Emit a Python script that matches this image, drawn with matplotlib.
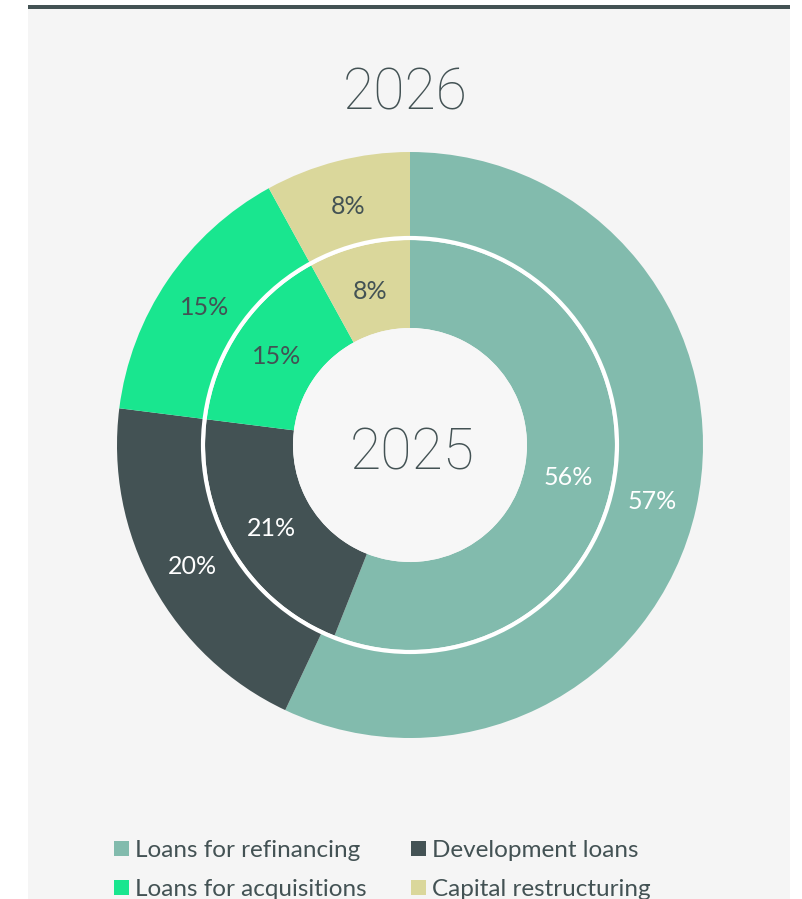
import matplotlib
matplotlib.use("Agg")
import matplotlib.pyplot as plt
from matplotlib.patches import Rectangle, Circle

categories = ["Loans for refinancing", "Development loans", "Loans for acquisitions", "Capital restructuring"]
values_2026 = [57, 20, 15, 8]
values_2025 = [56, 21, 15, 8]
colors = ["#82bbad", "#435254", "#19e68f", "#dad79b"]
label_colors = ["white", "white", "#435254", "#435254"]
outer_title = "2026"
inner_title = "2025"

TEXT = "#435254"
BG = "#f5f5f5"
FONT = ["Lato", "DejaVu Sans"]
TITLE_FONT = ["Roboto", "Lato", "DejaVu Sans"]

W, H = 802, 899
fig = plt.figure(figsize=(W / 100, H / 100), dpi=100)
fig.patch.set_facecolor("white")
ax = fig.add_axes([0, 0, 1, 1])

def Y(y):
    return H - y

cx, cy = 410, Y(445)

# outer ring (2026)
w1, t1, a1 = ax.pie(values_2026, radius=293, center=(cx, cy), startangle=90, counterclock=False,
                    colors=colors, wedgeprops=dict(width=87, edgecolor="none", linewidth=0),
                    autopct=lambda p: f"{p:.0f}%", pctdistance=248 / 293, frame=True,
                    textprops=dict(fontsize=18, family=FONT))
# inner ring (2025)
w2, t2, a2 = ax.pie(values_2025, radius=205, center=(cx, cy), startangle=90, counterclock=False,
                    colors=colors, wedgeprops=dict(width=88, edgecolor="none", linewidth=0),
                    autopct=lambda p: f"{p:.0f}%", pctdistance=161 / 205, frame=True,
                    textprops=dict(fontsize=18, family=FONT))
for txts in (a1, a2):
    for t, c in zip(txts, label_colors):
        t.set_color(c)
        t.set_va("center_baseline")

ax.set_xlim(0, W)
ax.set_ylim(0, H)
ax.set_aspect("auto")
ax.axis("off")

# panel and top bar
ax.add_patch(Rectangle((28, 0), 762, Y(9), facecolor=BG, edgecolor="none", zorder=-2))
ax.add_patch(Rectangle((28, Y(9)), 762, 4, facecolor="#435254", edgecolor="none", zorder=-1))

ax.add_patch(Circle((cx, cy), 207, facecolor="none", edgecolor="white", linewidth=3, zorder=5))
ax.add_patch(Circle((cx, cy), 117, facecolor="#f7f7f7", edgecolor="none", zorder=4))

ax.text(405, Y(110), outer_title, ha="center", va="baseline", fontsize=41, color=TEXT,
        family=TITLE_FONT, fontweight="light")
ax.text(412, Y(470), inner_title, ha="center", va="baseline", fontsize=41, color=TEXT,
        family=TITLE_FONT, fontweight="light", zorder=6)

# legend
pos = [(114, 857), (411, 857), (114, 896), (411, 896)]
for (x, y), name, c in zip(pos, categories, colors):
    ax.add_patch(Rectangle((x, Y(y) + 1), 15, 15, facecolor=c, edgecolor="none"))
    ax.text(x + 21, Y(y), name, ha="left", va="baseline", fontsize=17.5, color=TEXT, family=FONT)

fig.savefig("out.png", dpi=100, facecolor=fig.get_facecolor())
